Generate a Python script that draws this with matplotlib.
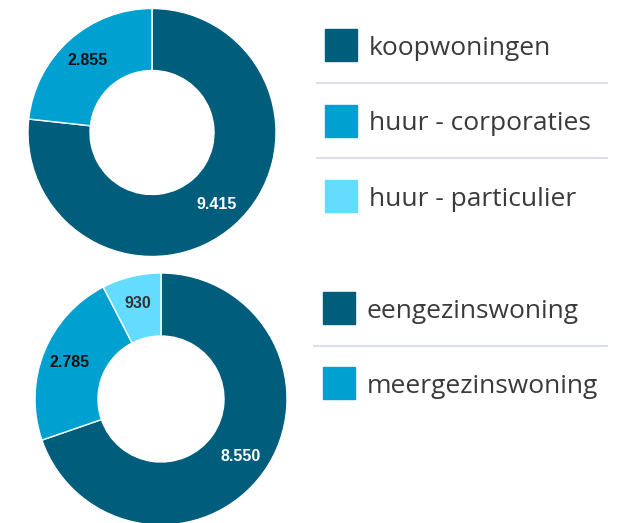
import numpy as np
import matplotlib.pyplot as plt
from matplotlib.patches import Rectangle

# woningvoorraad naar eigendom en naar type
top_labels = ['koopwoningen', 'huur - corporaties', 'huur - particulier']
top_values = [9415, 2855]

bottom_labels = ['eengezinswoning', 'meergezinswoning']
bottom_values = [8550, 2785, 930]

colors = ['#005d7c', '#00a1d1', '#63dcff']
label_colors = ['white', '#111111', '#333333']

W, H = 618, 523


def fmt(v):
    return f'{v:,}'.replace(',', '.')


def px_axes(fig, x0, y0, x1, y1):
    # axes placed in pixel coords, y measured from the top
    return fig.add_axes([x0 / W, 1 - y1 / H, (x1 - x0) / W, (y1 - y0) / H])


def donut(ax, values):
    wedges, _ = ax.pie(values, colors=colors[:len(values)], startangle=90,
                       counterclock=False, radius=1,
                       wedgeprops=dict(width=0.5, edgecolor='white', linewidth=1))
    for w, v, c in zip(wedges, values, label_colors):
        mid = np.deg2rad((w.theta1 + w.theta2) / 2)
        ax.text(0.78 * np.cos(mid), 0.78 * np.sin(mid), fmt(v),
                ha='center', va='center', color=c, fontsize=11.5,
                fontweight='bold', family='Liberation Sans')
    ax.set_xlim(-1, 1)
    ax.set_ylim(-1, 1)
    ax.axis('off')


def legend(ax, labels, x_box, y_first, step, sep_x0):
    for i, lab in enumerate(labels):
        yc = y_first + i * step
        ax.add_patch(Rectangle((x_box, yc - 16), 32, 32, color=colors[i]))
        ax.text(x_box + 44, yc + 10, lab, ha='left', va='baseline',
                fontsize=19, color='#3a3a3a', family='Open Sans')
        if i < len(labels) - 1:
            ys = yc + step / 2
            ax.plot([sep_x0, 607], [ys, ys], color='#d3d7e6', lw=1.2)


fig = plt.figure(figsize=(W / 100, H / 100), dpi=100)

ax1 = px_axes(fig, 28, 8.5, 276, 256.5)
donut(ax1, top_values)

ax2 = px_axes(fig, 35, 273, 287, 525)
donut(ax2, bottom_values)

# legend panel drawn in pixel coordinates
lg = fig.add_axes([0, 0, 1, 1], zorder=-1)
lg.set_xlim(0, W)
lg.set_ylim(H, 0)
lg.axis('off')
legend(lg, top_labels, 325, 45, 75.5, 317)
legend(lg, bottom_labels, 323, 308, 75, 314)

fig.savefig('out.png', dpi=100)
